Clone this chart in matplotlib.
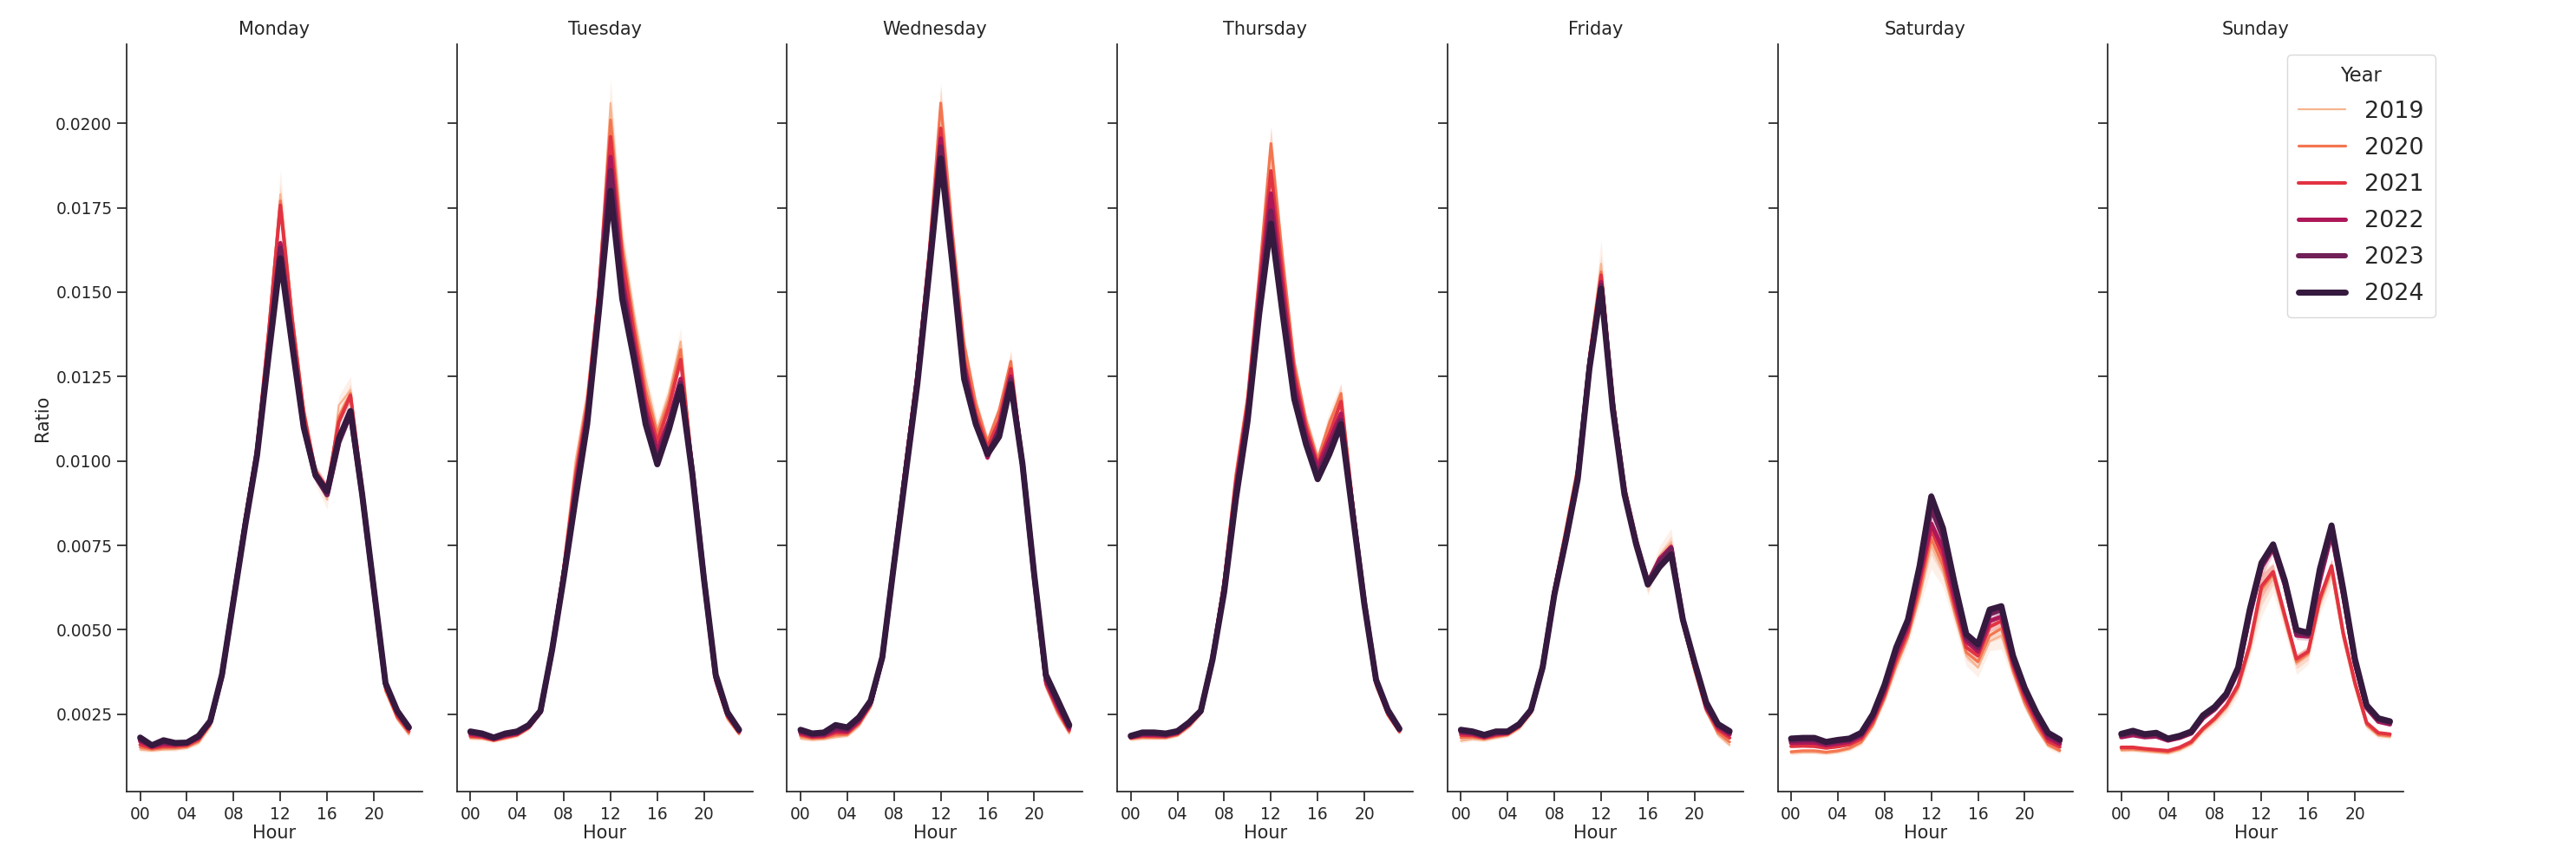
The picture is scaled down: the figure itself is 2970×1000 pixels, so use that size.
import matplotlib.pyplot as plt
import numpy as np
import seaborn as sns

hours = list(range(24))
tick_hours = [0, 4, 8, 12, 16, 20]
tick_labels = ["00", "04", "08", "12", "16", "20"]
years = [2019, 2020, 2021, 2022, 2023, 2024]
days = ["Monday", "Tuesday", "Wednesday", "Thursday", "Friday", "Saturday", "Sunday"]

# one row per year (2019 .. 2024), 24 hourly values each
monday = [
    [0.00145, 0.00142, 0.00145, 0.00146, 0.00150, 0.00165, 0.00214, 0.00355, 0.00605, 0.0083, 0.0104, 0.0140, 0.0179, 0.0144, 0.0116, 0.0096, 0.00885, 0.01165, 0.0121, 0.0092, 0.0061, 0.0032, 0.00235, 0.00190],
    [0.00152, 0.00146, 0.00150, 0.00150, 0.00154, 0.00170, 0.00218, 0.00358, 0.00602, 0.0083, 0.0104, 0.0139, 0.0177, 0.0143, 0.0115, 0.0097, 0.0091, 0.0113, 0.0120, 0.0092, 0.0061, 0.0032, 0.00240, 0.00195],
    [0.00160, 0.00150, 0.00155, 0.00155, 0.00158, 0.00175, 0.00222, 0.00362, 0.00600, 0.0083, 0.0104, 0.0138, 0.01757, 0.0142, 0.0114, 0.0097, 0.0092, 0.01115, 0.01194, 0.0092, 0.0062, 0.0033, 0.00245, 0.00200],
    [0.00170, 0.00154, 0.00162, 0.00160, 0.00163, 0.00180, 0.00226, 0.00364, 0.00595, 0.0082, 0.01025, 0.0134, 0.01645, 0.0137, 0.0111, 0.0096, 0.0090, 0.0106, 0.0114, 0.00905, 0.0062, 0.0034, 0.00255, 0.00208],
    [0.00176, 0.00157, 0.00168, 0.00163, 0.00165, 0.00183, 0.00228, 0.00365, 0.00592, 0.00815, 0.0102, 0.0133, 0.0163, 0.0136, 0.0110, 0.00955, 0.0090, 0.01055, 0.0114, 0.0090, 0.0062, 0.0034, 0.00258, 0.0021],
    [0.00181, 0.00158, 0.00173, 0.00165, 0.00166, 0.00186, 0.0023, 0.00367, 0.00589, 0.00811, 0.01016, 0.01313, 0.0160, 0.01345, 0.01099, 0.00959, 0.0091, 0.01066, 0.01148, 0.00901, 0.00622, 0.00342, 0.0026, 0.00211],
]
tuesday = [
    [0.00178, 0.00177, 0.00170, 0.00177, 0.00185, 0.00207, 0.00253, 0.00452, 0.0070, 0.0100, 0.0120, 0.0152, 0.0206, 0.01659, 0.01436, 0.01243, 0.01094, 0.0120, 0.01354, 0.0099, 0.0064, 0.0034, 0.00235, 0.00190],
    [0.00182, 0.00180, 0.00172, 0.00180, 0.00188, 0.00209, 0.00254, 0.00450, 0.0069, 0.0097, 0.0118, 0.0151, 0.0201, 0.0163, 0.0141, 0.0121, 0.0108, 0.0118, 0.0133, 0.0098, 0.0064, 0.0035, 0.00240, 0.00193],
    [0.00186, 0.00183, 0.00174, 0.00183, 0.00190, 0.00211, 0.00255, 0.00447, 0.0068, 0.0095, 0.0116, 0.0150, 0.0196, 0.0160, 0.0138, 0.0118, 0.01057, 0.0116, 0.0130, 0.0098, 0.0065, 0.0035, 0.00245, 0.00196],
    [0.00192, 0.00187, 0.00177, 0.00187, 0.00193, 0.00214, 0.00257, 0.00444, 0.0067, 0.0092, 0.0114, 0.0148, 0.0190, 0.0154, 0.0134, 0.0115, 0.0103, 0.0112, 0.01243, 0.0097, 0.0065, 0.0036, 0.00250, 0.00200],
    [0.00196, 0.00190, 0.00179, 0.00190, 0.00196, 0.00216, 0.00258, 0.00442, 0.0066, 0.0090, 0.0112, 0.0146, 0.0186, 0.0151, 0.0132, 0.0113, 0.0100, 0.0111, 0.0123, 0.0097, 0.0065, 0.0036, 0.00254, 0.00202],
    [0.00199, 0.00193, 0.00181, 0.00193, 0.00199, 0.00218, 0.0026, 0.00441, 0.00656, 0.00887, 0.01109, 0.01443, 0.0180, 0.0148, 0.01302, 0.01109, 0.0099, 0.01094, 0.0122, 0.0096, 0.00649, 0.00367, 0.00256, 0.00204],
]
wednesday = [
    [0.00178, 0.00174, 0.00176, 0.00182, 0.00186, 0.00215, 0.00270, 0.00410, 0.0071, 0.0100, 0.0127, 0.0162, 0.0205, 0.0167, 0.0134, 0.0116, 0.0104, 0.0114, 0.0129, 0.0100, 0.0064, 0.0033, 0.00250, 0.00193],
    [0.00185, 0.00178, 0.00180, 0.00188, 0.00190, 0.00220, 0.00274, 0.00412, 0.0071, 0.0100, 0.0127, 0.0162, 0.0206, 0.0168, 0.01347, 0.0117, 0.01057, 0.0115, 0.01295, 0.0100, 0.0065, 0.0034, 0.00258, 0.00198],
    [0.00190, 0.00182, 0.00184, 0.00195, 0.00195, 0.00225, 0.00278, 0.00413, 0.0070, 0.0099, 0.0126, 0.0160, 0.01985, 0.0164, 0.0130, 0.0114, 0.0104, 0.0112, 0.01273, 0.0100, 0.0065, 0.0034, 0.00265, 0.00202],
    [0.00195, 0.00186, 0.00188, 0.00202, 0.00200, 0.00230, 0.00282, 0.00415, 0.0070, 0.0098, 0.0125, 0.0159, 0.01955, 0.0162, 0.0128, 0.0112, 0.0101, 0.0110, 0.0125, 0.0099, 0.0066, 0.0035, 0.00275, 0.00208],
    [0.00200, 0.00190, 0.00192, 0.00210, 0.00206, 0.00236, 0.00286, 0.00417, 0.00697, 0.0097, 0.0124, 0.0157, 0.0193, 0.0160, 0.0126, 0.0111, 0.0102, 0.0109, 0.0124, 0.0099, 0.0066, 0.0036, 0.00285, 0.00213],
    [0.00204, 0.00193, 0.00196, 0.00218, 0.00211, 0.00241, 0.0029, 0.00419, 0.00694, 0.00961, 0.01228, 0.01555, 0.01896, 0.01584, 0.01243, 0.01109, 0.0102, 0.01072, 0.01228, 0.0099, 0.00664, 0.00367, 0.00293, 0.00218],
]
thursday = [
    [0.00175, 0.00178, 0.00178, 0.00178, 0.00186, 0.00212, 0.00252, 0.00426, 0.0065, 0.0096, 0.0119, 0.0155, 0.0192, 0.0159, 0.0128, 0.0111, 0.0100, 0.0112, 0.0119, 0.0088, 0.0057, 0.0033, 0.00245, 0.00195],
    [0.00178, 0.00182, 0.00181, 0.00181, 0.00189, 0.00215, 0.00253, 0.00424, 0.0065, 0.0096, 0.0119, 0.0155, 0.0194, 0.0160, 0.0129, 0.0112, 0.01005, 0.0111, 0.0120, 0.0088, 0.0058, 0.0034, 0.00248, 0.00197],
    [0.00180, 0.00186, 0.00185, 0.00184, 0.00192, 0.00218, 0.00255, 0.00420, 0.0064, 0.0094, 0.0117, 0.0152, 0.01859, 0.0155, 0.0126, 0.0110, 0.0099, 0.0108, 0.01176, 0.0087, 0.0058, 0.0034, 0.00252, 0.00200],
    [0.00182, 0.00189, 0.00189, 0.00187, 0.00195, 0.00221, 0.00257, 0.00416, 0.0063, 0.0092, 0.0115, 0.0149, 0.01792, 0.0150, 0.0123, 0.0108, 0.0098, 0.0106, 0.0114, 0.0086, 0.0058, 0.0035, 0.00256, 0.00203],
    [0.00184, 0.00193, 0.00193, 0.00190, 0.00198, 0.00224, 0.00259, 0.00413, 0.0062, 0.0090, 0.0113, 0.0146, 0.0174, 0.0146, 0.0120, 0.0106, 0.0096, 0.0104, 0.0112, 0.0085, 0.0058, 0.0035, 0.00260, 0.00205],
    [0.00186, 0.00196, 0.00196, 0.00193, 0.0020, 0.00226, 0.0026, 0.00411, 0.00612, 0.00887, 0.01117, 0.01436, 0.01703, 0.01436, 0.01183, 0.0105, 0.00946, 0.0102, 0.01109, 0.00842, 0.00575, 0.00352, 0.00263, 0.00207],
]
friday = [
    [0.00171, 0.00176, 0.00173, 0.00180, 0.00186, 0.00208, 0.00252, 0.00399, 0.0063, 0.0081, 0.0099, 0.0132, 0.01584, 0.0120, 0.0093, 0.0077, 0.0063, 0.0072, 0.0076, 0.0052, 0.0038, 0.0026, 0.00189, 0.00159],
    [0.00180, 0.00182, 0.00177, 0.00184, 0.00189, 0.00211, 0.00254, 0.00397, 0.0062, 0.0080, 0.0098, 0.0131, 0.0156, 0.0119, 0.0092, 0.0076, 0.0063, 0.0071, 0.0075, 0.0052, 0.0038, 0.0026, 0.00196, 0.00168],
    [0.00188, 0.00187, 0.00180, 0.00188, 0.00192, 0.00214, 0.00257, 0.00395, 0.0062, 0.0079, 0.0097, 0.0130, 0.0155, 0.0118, 0.0092, 0.0076, 0.0064, 0.0071, 0.0074, 0.0052, 0.0039, 0.0027, 0.00205, 0.00180],
    [0.00195, 0.00192, 0.00183, 0.00192, 0.00195, 0.00217, 0.00260, 0.00393, 0.0061, 0.0078, 0.0096, 0.0129, 0.0153, 0.0117, 0.0091, 0.0076, 0.0064, 0.0071, 0.00745, 0.0053, 0.0040, 0.0027, 0.00212, 0.00190],
    [0.00200, 0.00196, 0.00186, 0.00196, 0.00197, 0.00219, 0.00262, 0.00391, 0.00607, 0.0077, 0.0095, 0.0128, 0.0152, 0.0116, 0.0091, 0.0076, 0.0064, 0.0070, 0.0074, 0.0053, 0.0040, 0.0028, 0.00218, 0.00196],
    [0.00204, 0.00199, 0.00189, 0.00199, 0.00199, 0.00221, 0.00263, 0.00389, 0.00604, 0.00768, 0.00946, 0.01273, 0.0151, 0.01154, 0.00901, 0.00753, 0.00634, 0.00686, 0.00723, 0.0053, 0.00404, 0.00285, 0.00221, 0.0020],
]
saturday = [
    [0.00135, 0.00137, 0.00137, 0.00134, 0.00138, 0.00146, 0.00164, 0.00214, 0.00292, 0.00388, 0.00474, 0.00594, 0.0075, 0.00672, 0.00543, 0.00423, 0.00388, 0.00466, 0.00483, 0.00371, 0.00277, 0.00208, 0.00156, 0.00139],
    [0.00139, 0.00142, 0.00142, 0.00138, 0.00142, 0.00150, 0.00168, 0.00218, 0.00298, 0.00398, 0.00482, 0.00612, 0.0077, 0.00690, 0.00557, 0.00433, 0.00405, 0.00483, 0.00504, 0.00380, 0.00285, 0.00215, 0.00161, 0.00143],
    [0.00155, 0.00156, 0.00155, 0.00150, 0.00154, 0.00160, 0.00177, 0.00228, 0.00308, 0.00412, 0.00495, 0.00635, 0.00796, 0.00715, 0.00575, 0.00448, 0.00423, 0.00509, 0.00526, 0.00393, 0.00298, 0.00228, 0.00170, 0.00153],
    [0.00165, 0.00166, 0.00166, 0.00158, 0.00163, 0.00168, 0.00185, 0.00238, 0.00320, 0.00428, 0.00510, 0.00660, 0.00814, 0.00740, 0.00595, 0.00466, 0.00436, 0.00526, 0.00539, 0.00405, 0.00312, 0.00240, 0.00180, 0.00162],
    [0.00172, 0.00174, 0.00174, 0.00164, 0.00170, 0.00174, 0.00191, 0.00246, 0.00332, 0.00442, 0.00525, 0.00680, 0.00861, 0.00775, 0.00620, 0.00477, 0.00447, 0.00547, 0.0056, 0.00415, 0.00322, 0.00250, 0.00190, 0.00170],
    [0.00178, 0.0018, 0.0018, 0.00168, 0.00174, 0.00178, 0.00195, 0.0025, 0.00337, 0.00448, 0.0053, 0.00689, 0.00895, 0.00801, 0.00637, 0.00487, 0.00457, 0.0056, 0.0057, 0.00423, 0.00328, 0.00255, 0.00195, 0.00175],
]
sunday = [
    [0.00142, 0.00143, 0.00140, 0.00137, 0.00134, 0.00144, 0.00161, 0.00200, 0.00230, 0.00268, 0.00325, 0.00440, 0.00610, 0.00655, 0.00525, 0.00398, 0.00425, 0.00575, 0.00670, 0.00475, 0.00332, 0.00215, 0.00186, 0.00182],
    [0.00147, 0.00147, 0.00144, 0.00141, 0.00138, 0.00148, 0.00165, 0.00204, 0.00234, 0.00272, 0.00330, 0.00448, 0.00620, 0.00665, 0.00535, 0.00405, 0.00430, 0.00585, 0.00680, 0.00483, 0.00338, 0.00220, 0.00190, 0.00186],
    [0.00152, 0.00152, 0.00148, 0.00145, 0.00142, 0.00152, 0.00169, 0.00208, 0.00238, 0.00277, 0.00337, 0.00457, 0.00629, 0.00672, 0.00543, 0.00414, 0.00436, 0.00594, 0.00689, 0.00491, 0.00345, 0.00225, 0.00195, 0.00191],
    [0.00182, 0.00188, 0.00182, 0.00184, 0.00172, 0.00180, 0.00193, 0.00238, 0.00264, 0.00303, 0.00376, 0.00540, 0.00685, 0.00740, 0.00632, 0.00483, 0.00480, 0.00645, 0.00783, 0.00600, 0.00400, 0.00268, 0.00228, 0.00220],
    [0.00188, 0.00195, 0.00187, 0.00190, 0.00175, 0.00183, 0.00196, 0.00243, 0.00268, 0.00307, 0.00382, 0.00550, 0.00690, 0.00748, 0.00640, 0.00490, 0.00485, 0.00660, 0.00795, 0.00610, 0.00408, 0.00273, 0.00234, 0.00225],
    [0.00192, 0.00201, 0.00191, 0.00195, 0.00178, 0.00186, 0.00199, 0.00247, 0.00272, 0.00311, 0.00388, 0.0056, 0.00698, 0.00753, 0.00646, 0.0050, 0.00491, 0.0068, 0.00809, 0.0062, 0.00414, 0.00277, 0.00238, 0.00229],
]
all_days = [monday, tuesday, wednesday, thursday, friday, saturday, sunday]

# half width of the confidence band, by hour, and how much it shrinks per year
ci_hour = [0.00006, 0.00005, 0.00005, 0.00005, 0.00005, 0.00006, 0.00008, 0.00010, 0.00014, 0.00018,
           0.00020, 0.00025, 0.00070, 0.00045, 0.00030, 0.00030, 0.00028, 0.00028, 0.00040, 0.00022,
           0.00014, 0.00010, 0.00008, 0.00007]
ci_year = [1.0, 0.7, 0.5, 0.4, 0.3, 0.25]

colors = sns.color_palette("rocket_r", 6)
widths = [1.6, 2.3, 2.9, 3.6, 4.3, 5.0]

ink = "#262626"
plt.rcParams["font.family"] = ["DejaVu Sans"]

fig, axes = plt.subplots(1, 7, figsize=(29.7, 10), dpi=100, sharey=True)
fig.subplots_adjust(left=0.0492, right=0.9330, bottom=0.087, top=0.949, wspace=0.117)

handles = []
for ax, day, data in zip(axes, days, all_days):
    for i, year in enumerate(years):
        y = np.array(data[i])
        ci = np.array(ci_hour) * ci_year[i]
        ax.fill_between(hours, y - ci, y + ci, color=colors[i], alpha=0.2, lw=0)
        ln, = ax.plot(hours, y, color=colors[i], lw=widths[i], label=str(year),
                      solid_capstyle="round", solid_joinstyle="round")
        if ax is axes[0]:
            handles.append(ln)
    ax.set_title(day, fontsize=15, color=ink, pad=8)
    ax.set_xlabel("Hour", fontsize=15, color=ink, labelpad=2)
    ax.set_xticks(tick_hours)
    ax.set_xticklabels(tick_labels)
    ax.set_xlim(-1.15, 24.15)
    for s in ["top", "right"]:
        ax.spines[s].set_visible(False)
    for s in ["left", "bottom"]:
        ax.spines[s].set_linewidth(1.25)
        ax.spines[s].set_color(ink)
    ax.tick_params(axis="both", length=8, width=1.25, color=ink, labelcolor=ink,
                   labelsize=13.4, pad=4)

axes[0].set_ylim(0.00021, 0.02234)
axes[0].set_yticks(np.arange(0.0025, 0.0201, 0.0025))
axes[0].yaxis.set_major_formatter(plt.FormatStrFormatter("%.4f"))
axes[0].set_ylabel("Ratio", fontsize=15, color=ink)

leg = fig.legend(handles, [str(y) for y in years], title="Year", loc="upper right",
                 bbox_to_anchor=(2808 / 2970, 1 - 63 / 1000), borderaxespad=0,
                 fontsize=19.4, title_fontsize=16.3, frameon=True,
                 labelspacing=0.6, borderpad=0.5)
leg.get_frame().set_edgecolor("#d0d0d0")
for t in leg.get_texts():
    t.set_color(ink)
leg.get_title().set_color(ink)

fig.savefig("out.png", dpi=100)
